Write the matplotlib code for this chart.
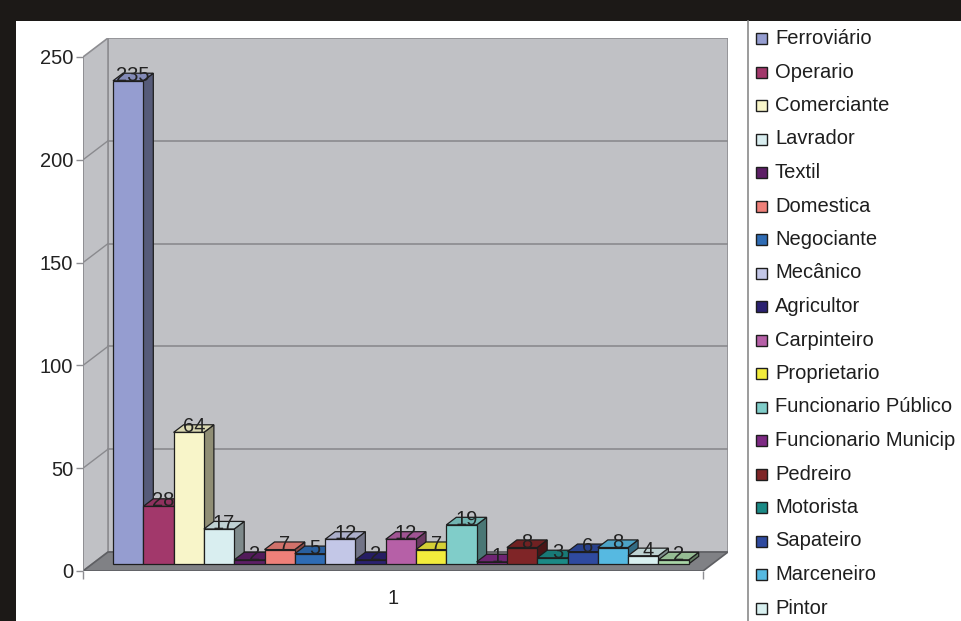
"""Ocupações: 3-D column chart in the old spreadsheet style, one category."""
import matplotlib
matplotlib.use("Agg")
import matplotlib.pyplot as plt
from matplotlib.patches import Polygon, Rectangle
from matplotlib.colors import to_rgb

plt.rcParams["font.family"] = ["Liberation Sans", "DejaVu Sans"]

occupations = [
    "Ferroviário", "Operario", "Comerciante", "Lavrador", "Textil",
    "Domestica", "Negociante", "Mecânico", "Agricultor", "Carpinteiro",
    "Proprietario", "Funcionario Público", "Funcionario Municip", "Pedreiro",
    "Motorista", "Sapateiro", "Marceneiro", "Pintor",
]
# the last column's legend entry falls below the visible area
counts = [235, 28, 64, 17, 2, 7, 5, 12, 2, 12, 7, 19, 1, 8, 3, 6, 8, 4, 2]
colors = [
    "#959dd0", "#a2386b", "#f8f5c9", "#d9eef0", "#5d1f66", "#ee8079",
    "#2f6cb4", "#c3c7e7", "#2b2171", "#b660a7", "#f2ec3c", "#80cdc9",
    "#7d2a83", "#7f2527", "#1b8a86", "#2f4a9f", "#56b9e1", "#d8f0f0",
    "#a9d5a7",
]
category = "1"
yticks = [0, 50, 100, 150, 200, 250]

W, H = 962, 621
FS = 14.5
fig = plt.figure(figsize=(W / 100, H / 100), dpi=100)
fig.patch.set_facecolor("#1c1917")

# white page inside the dark frame
bg = fig.add_axes([16 / W, 0, (W - 16) / W, (H - 21) / H])
bg.set_facecolor("white")
bg.set_xticks([])
bg.set_yticks([])
for s in bg.spines.values():
    s.set_visible(False)

ymax = 250
px_per_x = 620.0
px_per_y = (571 - 57) / ymax
dx = 25 / px_per_x          # full depth shift, x
dy = 19 / px_per_y          # full depth shift, y

ax = fig.add_axes([83 / W, (H - 571) / H, 645 / W, 533 / H])
ax.set_xlim(0, 1 + dx)
ax.set_ylim(0, ymax + dy)
ax.patch.set_visible(False)
for s in ax.spines.values():
    s.set_visible(False)

wall = "#c0c1c5"
wall_edge = "#8e8e92"
grid = "#8a8a8e"

# back wall and side wall
ax.add_patch(Rectangle((dx, dy), 1, ymax, facecolor=wall, edgecolor=wall_edge, lw=1.2, zorder=1))
ax.add_patch(Polygon([(0, 0), (dx, dy), (dx, ymax + dy), (0, ymax)], closed=True,
                     facecolor=wall, edgecolor=wall_edge, lw=1.2, zorder=1))
for v in yticks[1:-1]:
    ax.plot([dx, 1 + dx], [v + dy, v + dy], color=grid, lw=1.2, zorder=2)
    ax.plot([0, dx], [v, v + dy], color=grid, lw=1.0, zorder=2)

# floor
ax.add_patch(Polygon([(0, 0), (1, 0), (1 + dx, dy), (dx, dy)], closed=True,
                     facecolor="#808185", edgecolor="#5e5f63", lw=1.2, zorder=2))
ax.plot([0, 0], [0, ymax], color=wall_edge, lw=1.2, zorder=2)


def shade(c, k):
    r, g, b = to_rgb(c)
    return (r * k, g * k, b * k)


n = len(counts)
w = 30.3 / px_per_x
f0 = 0.37     # depth of the bar front faces
bd = 0.40     # bar depth
x_start = (113 - 83) / px_per_x - f0 * dx
edge = "#1e1e1e"

for i, (v, c) in enumerate(zip(counts, colors)):
    x0 = x_start + i * w + f0 * dx
    y0 = f0 * dy
    ddx, ddy = bd * dx, bd * dy
    z = 3 + i
    # right side
    ax.add_patch(Polygon([(x0 + w, y0), (x0 + w + ddx, y0 + ddy),
                          (x0 + w + ddx, y0 + v + ddy), (x0 + w, y0 + v)],
                         closed=True, facecolor=shade(c, 0.58), edgecolor=edge, lw=0.9, zorder=z))
    # top
    ax.add_patch(Polygon([(x0, y0 + v), (x0 + w, y0 + v), (x0 + w + ddx, y0 + v + ddy),
                          (x0 + ddx, y0 + v + ddy)],
                         closed=True, facecolor=shade(c, 0.88), edgecolor=edge, lw=0.9, zorder=z))
    # front
    ax.add_patch(Rectangle((x0, y0), w, v, facecolor=c, edgecolor=edge, lw=0.9, zorder=z))
    ax.text(x0 + w / 2 + ddx / 2, y0 + v + ddy / 2 + 0.8, str(v), ha="center", va="center",
            fontsize=FS, color="#222222", zorder=40)

ax.set_yticks(yticks)
ax.set_yticklabels([str(t) for t in yticks])
ax.tick_params(axis="y", direction="out", length=5, width=1, color="#8e8e92",
               labelsize=FS, labelcolor="#222222", pad=2)
ax.set_xticks([0.5])
ax.set_xticklabels([category])
ax.set_xticks([0, 1], minor=True)
ax.tick_params(axis="x", which="major", length=0, labelsize=FS, labelcolor="#222222", pad=13)
ax.tick_params(axis="x", which="minor", direction="out", length=6, width=1, color="#8e8e92")

# legend panel
fig.add_artist(plt.Line2D([748 / W, 748 / W], [0, (H - 21) / H], color="#8a8a8a", lw=1.2,
                          transform=fig.transFigure))
for i, name in enumerate(occupations):
    yc = 38.5 + i * 33.5
    fig.add_artist(Rectangle((756 / W, (H - yc - 5.5) / H), 11 / W, 11 / H,
                             facecolor=colors[i], edgecolor="#1e1e1e", lw=1.0,
                             transform=fig.transFigure))
    fig.text(775 / W, (H - yc) / H, name, ha="left", va="center", fontsize=FS, color="#1e1e1e")

fig.savefig("out.png", dpi=100, facecolor=fig.get_facecolor())
